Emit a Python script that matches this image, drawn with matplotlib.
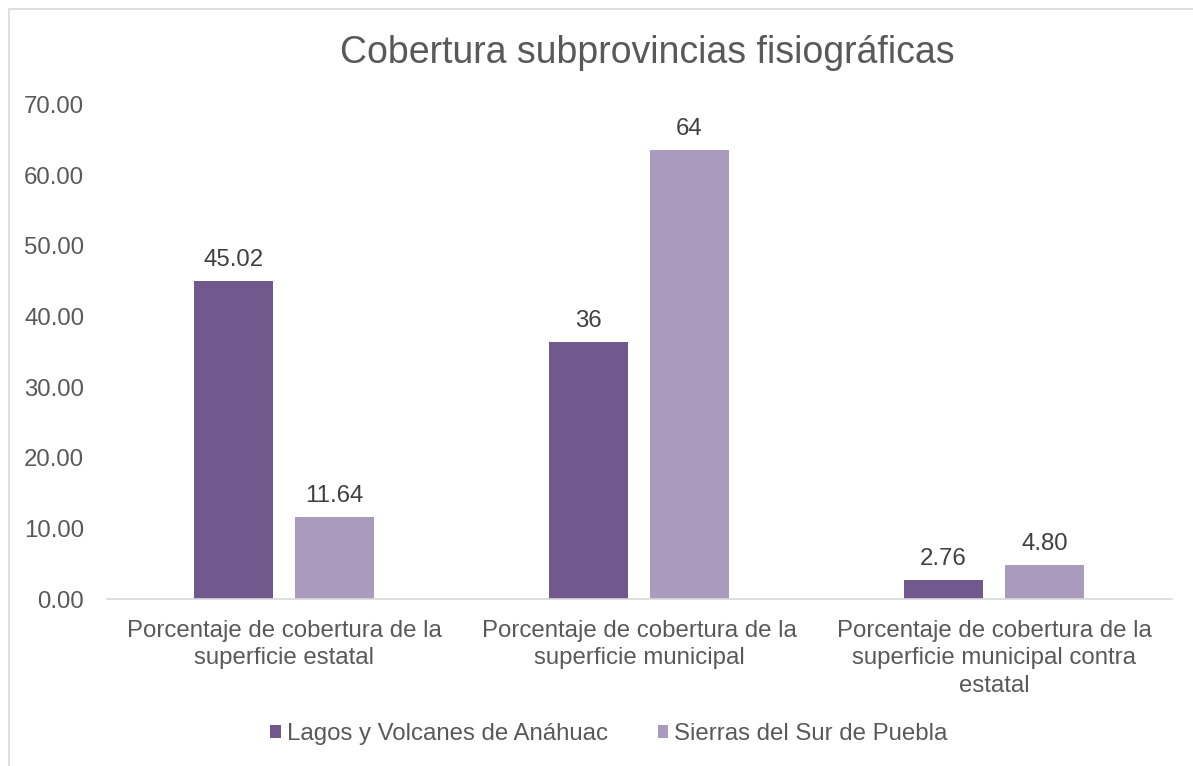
import matplotlib
matplotlib.use("Agg")
import matplotlib.pyplot as plt
from matplotlib.patches import Rectangle
import numpy as np

categories = [
    "Porcentaje de cobertura de la\nsuperficie estatal",
    "Porcentaje de cobertura de la\nsuperficie municipal",
    "Porcentaje de cobertura de la\nsuperficie municipal contra\nestatal",
]
series_names = ["Lagos y Volcanes de Anáhuac", "Sierras del Sur de Puebla"]
lagos = [45.02, 36.45, 2.76]
sierras = [11.64, 63.55, 4.80]
label_decimals = [2, 0, 2]
yticks = [0, 10, 20, 30, 40, 50, 60, 70]

plt.rcParams['font.family'] = ['Liberation Sans', 'DejaVu Sans']
txt = '#595959'
fs = 17.3

fig = plt.figure(figsize=(11.93, 7.66), dpi=100)
W, H = 1193, 766
ax = fig.add_axes([106.5 / W, 1 - 599 / H, (1171.5 - 106.5) / W, (599 - 104.5) / H])

x = np.arange(len(categories))
bw = 0.2225
off = 0.1423
colors = ['#71598E', '#A99ABE']
for vals, dx, c, name in [(lagos, -off, colors[0], series_names[0]),
                          (sierras, off, colors[1], series_names[1])]:
    bars = ax.bar(x + dx, vals, width=bw, color=c, label=name, zorder=2)
    for b, v, d in zip(bars, vals, label_decimals):
        ax.annotate(f"{v:.{d}f}", (b.get_x() + b.get_width() / 2, v),
                    xytext=(0, 7), textcoords='offset points',
                    ha='center', va='bottom', fontsize=fs, color='#404040')

ax.set_xlim(-0.5, 2.5)
ax.set_ylim(0, 70)
ax.set_yticks(yticks)
ax.set_yticklabels([f"{t:.2f}" for t in yticks])
ax.set_xticks(x)
ax.set_xticklabels(categories, linespacing=1.32)
ax.tick_params(axis='both', length=0, labelsize=fs, colors=txt)
ax.tick_params(axis='y', pad=16)
ax.tick_params(axis='x', pad=15)
for s in ['top', 'right', 'left']:
    ax.spines[s].set_visible(False)
ax.spines['bottom'].set_color('#D9D9D9')
ax.spines['bottom'].set_linewidth(1.2)

fig.text(647 / W, 1 - 53 / H, "Cobertura subprovincias fisiográficas",
         ha='center', va='center', fontsize=27, color=txt)

leg = fig.legend(loc='center', bbox_to_anchor=(609 / W, 1 - 734 / H), ncol=2,
                 frameon=False, fontsize=fs, handlelength=0.42, handleheight=0.42,
                 handletextpad=0.25, columnspacing=2.1)
for t in leg.get_texts():
    t.set_color(txt)

fig.patches.append(Rectangle((9 / W, -0.01), 1.02, 1 - 9 / H + 0.01,
                             transform=fig.transFigure, fill=False,
                             edgecolor='#D9D9D9', linewidth=1.2))

fig.savefig("out.png", dpi=100)
